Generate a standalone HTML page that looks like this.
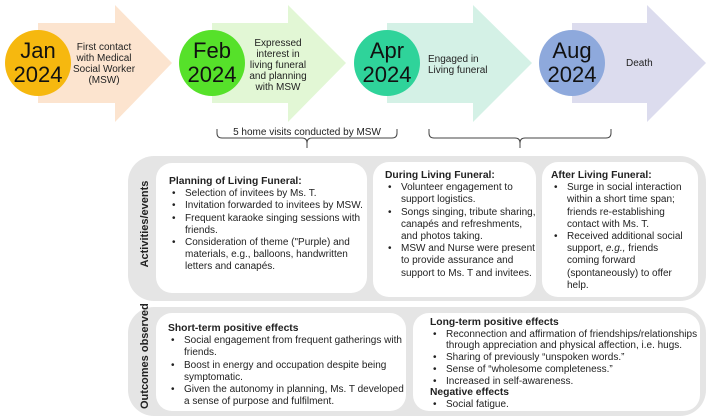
<!DOCTYPE html>
<html><head><meta charset="utf-8"><style>
body{margin:0;width:709px;height:420px;background:#fff;position:relative;overflow:hidden;font-family:"Liberation Sans",sans-serif;color:#222}
.a{position:absolute}
.c{position:absolute;border-radius:50%;display:flex;align-items:center;justify-content:center;text-align:center;font-size:22px;line-height:24px;color:#111}
.t{position:absolute;font-size:10px;line-height:11px;text-align:center;color:#222}
.box{position:absolute;background:#fff;border-radius:16px;font-size:10px;line-height:12.2px;color:#222}
.box b{display:block;font-size:10.3px}
.box ul{margin:0;padding:0 0 0 16px;list-style:none}
.box li{position:relative}
.box li:before{content:"•";position:absolute;left:-13px}
.panel{position:absolute;background:#e5e5e5;border-radius:26px}
.rot{position:absolute;transform:rotate(-90deg);font-weight:bold;font-size:11px;white-space:nowrap;transform-origin:center}
</style></head><body>
<svg class="a" style="left:0;top:0" width="709" height="160">
<polygon points="38,23 115,23 115,5 172,63 115,122 115,103 38,103" fill="#fce4cf"/>
<polygon points="212,23 288,23 288,5 346,63 288,122 288,103 212,103" fill="#e2f7d5"/>
<polygon points="387,23 473,23 473,5 532,63 473,122 473,103 387,103" fill="#d4f1e6"/>
<polygon points="572,23 647,23 647,5 706,63 647,122 647,103 572,103" fill="#dcdcee"/>
<g fill="none" stroke="#444" stroke-width="1">
<path d="M217,129 v4 q0,5 5,5 h80 q5,0 5,5 v5 M307,143 q0,-5 5,-5 h80 q5,0 5,-5 v-4"/>
<path d="M429,129 v4 q0,5 5,5 h81 q5,0 5,5 v5 M520,143 q0,-5 5,-5 h81 q5,0 5,-5 v-4"/>
</g>
<text x="307" y="135" font-size="10" text-anchor="middle" fill="#222" font-family="Liberation Sans">5 home visits conducted by MSW</text>
</svg>
<div class="c" style="left:5px;top:30px;width:66px;height:66px;background:#f6b80f">Jan<br>2024</div>
<div class="c" style="left:179px;top:30px;width:66px;height:66px;background:#56e12a">Feb<br>2024</div>
<div class="c" style="left:354px;top:30px;width:66px;height:66px;background:#2fd39a">Apr<br>2024</div>
<div class="c" style="left:539px;top:30px;width:66px;height:66px;background:#8ea9dc">Aug<br>2024</div>
<div class="t" style="left:64px;top:42px;width:80px">First contact<br>with Medical<br>Social Worker<br>(MSW)</div>
<div class="t" style="left:246px;top:38px;width:64px">Expressed<br>interest in<br>living funeral<br>and planning<br>with MSW</div>
<div class="t" style="left:428px;top:54px;width:70px;text-align:left">Engaged in<br>Living funeral</div>
<div class="t" style="left:626px;top:58px;width:40px;text-align:left">Death</div>

<div class="panel" style="left:128px;top:156px;width:578px;height:145px"></div>
<div class="panel" style="left:128px;top:307px;width:578px;height:109px"></div>
<div class="rot" style="left:95px;top:218px;width:100px;text-align:center">Activities/events</div>
<div class="rot" style="left:95px;top:353px;width:100px;text-align:center">Outcomes observed</div>

<div class="box" style="left:156px;top:163px;width:211px;height:130px;padding:13px 0 0 13px;box-sizing:border-box"><b>Planning of Living Funeral:</b><ul>
<li>Selection of invitees by Ms. T.</li><li>Invitation forwarded to invitees by MSW.</li><li>Frequent karaoke singing sessions with friends.</li><li>Consideration of theme ("Purple) and materials, e.g., balloons, handwritten letters and canapés.</li></ul></div>
<div class="box" style="left:373px;top:162px;width:163px;height:135px;padding:8px 0 0 12px;box-sizing:border-box"><b>During Living Funeral:</b><ul>
<li>Volunteer engagement to support logistics.</li><li>Songs singing, tribute sharing, canapés and refreshments, and photos taking.</li><li>MSW and Nurse were present to provide assurance and support to Ms. T and invitees.</li></ul></div>
<div class="box" style="left:542px;top:162px;width:156px;height:135px;padding:8px 14px 0 9px;box-sizing:border-box"><b>After Living Funeral:</b><ul>
<li>Surge in social interaction within a short time span; friends re-establishing contact with Ms. T.</li><li>Received additional social support, <i>e.g.,</i> friends coming forward (spontaneously) to offer help.</li></ul></div>
<div class="box" style="left:156px;top:313px;width:250px;height:98px;padding:10px 0 0 12px;box-sizing:border-box"><b>Short-term positive effects</b><ul>
<li>Social engagement from frequent gatherings with friends.</li><li>Boost in energy and occupation despite being symptomatic.</li><li>Given the autonomy in planning, Ms. T developed a sense of purpose and fulfilment.</li></ul></div>
<div class="box" style="left:413px;top:313px;width:287px;height:98px;padding:4px 0 0 17px;box-sizing:border-box;line-height:11.7px"><b>Long-term positive effects</b><ul>
<li>Reconnection and affirmation of friendships/relationships through appreciation and physical affection, i.e. hugs.</li><li>Sharing of previously “unspoken words.”</li><li>Sense of “wholesome completeness.”</li><li>Increased in self-awareness.</li></ul><b>Negative effects</b><ul><li>Social fatigue.</li></ul></div>
</body></html>
